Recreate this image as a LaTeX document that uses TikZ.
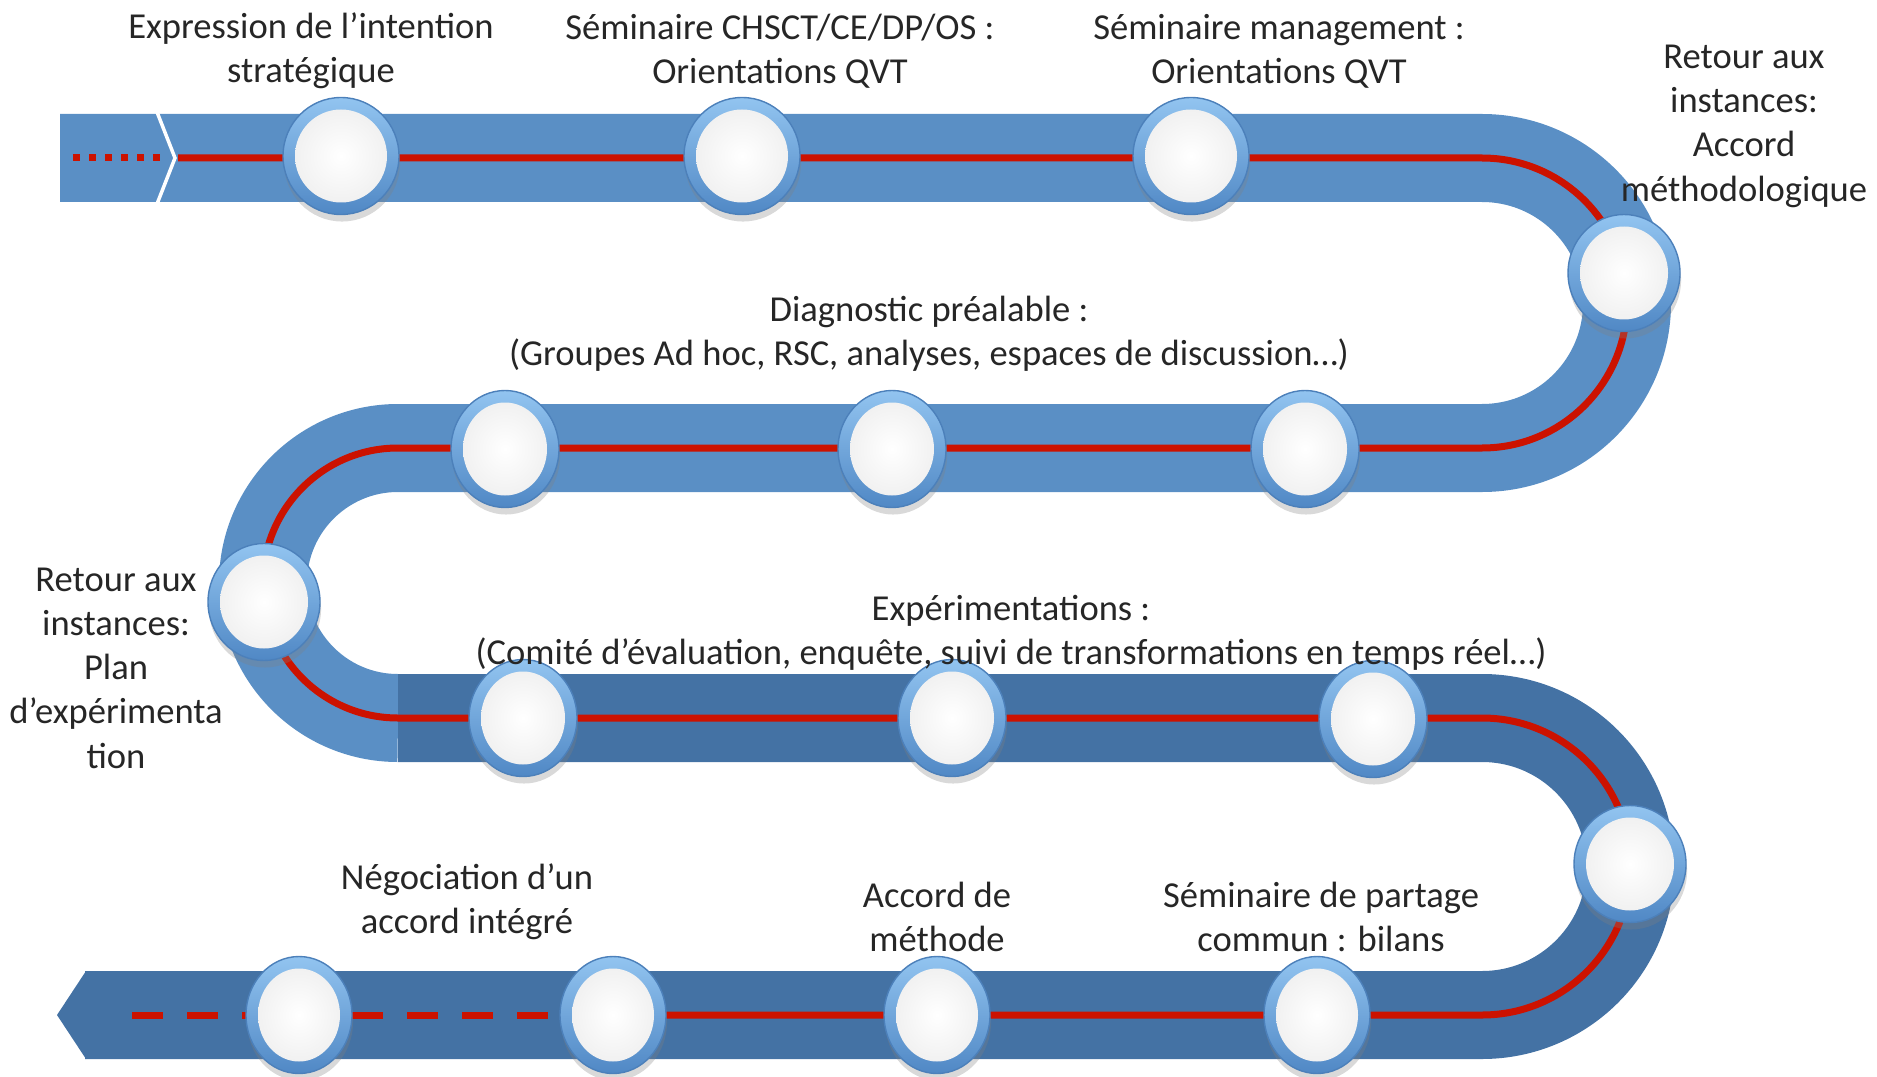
\documentclass[tikz,border=0pt]{standalone}
\usepackage{fontspec}
\setmainfont{Carlito}
\usepackage{tikz}
\usetikzlibrary{shapes.geometric,shadows,calc}

\definecolor{bandlight}{RGB}{90,143,197}
\definecolor{banddark}{RGB}{68,114,164}
\definecolor{railred}{RGB}{204,18,0}
\definecolor{ringtop}{RGB}{146,196,240}
\definecolor{ringbot}{RGB}{80,136,197}
\definecolor{ringline}{RGB}{76,128,186}

\tikzset{
	band/.style={line width=0.88cm, draw=bandlight},
	rail/.style={line width=0.07cm, draw=railred},
	stop/.style={ellipse, minimum width=#1, minimum height=1.17cm, inner sep=0pt,
		draw=ringline, line width=0.4pt, top color=ringtop, bottom color=ringbot,
		drop shadow={shadow xshift=0.3pt, shadow yshift=-2pt, opacity=0.3},
		path picture={\shade[inner color=white, outer color=black!7]
			(path picture bounding box.center) ellipse [x radius=#1/2-0.12cm, y radius=0.465cm];}},
	stop/.default=1.16cm,
	lbl/.style={align=center, inner sep=0pt, text=black!85,
		font=\fontsize{10.4}{12.6}\selectfont}
}

\begin{document}
\begin{tikzpicture}

	\newcommand{\HelpGrid}[4]{
		\draw [help lines] (#1,#2) grid (#3,#4);
		\foreach \i in {#1,..., #3}
		\node [below] at (\i,#2) {$\i$};
		\foreach \i in {#2,..., #4}
		\node [left] at (#1,\i) {$\i$};
	}

	\useasboundingbox (0,0) rectangle (18.77,10.76);

	% the track
	\draw [band] (0.60,9.18) -- (14.82,9.18) arc [start angle=90, end angle=-90, radius=1.45]
		-- (3.98,6.28) arc [start angle=90, end angle=270, radius=1.35];
	\draw [band, draw=banddark] (3.98,3.58) -- (14.82,3.58)
		arc [start angle=90, end angle=-90, radius=1.485] -- (0.85,0.61);
	\fill [banddark] (0.86,1.05) -- (0.57,0.61) -- (0.86,0.17) -- cycle;
	\draw [white, line width=0.035cm] (1.57,9.64) -- (1.75,9.18) -- (1.57,8.72);

	% the red line
	\draw [rail, dash pattern=on 0.07cm off 0.09cm] (0.73,9.18) -- (1.60,9.18);
	\draw [rail] (1.78,9.18) -- (14.82,9.18) arc [start angle=90, end angle=-90, radius=1.45]
		-- (3.98,6.28) arc [start angle=90, end angle=270, radius=1.35]
		-- (14.82,3.58) arc [start angle=90, end angle=-90, radius=1.485] -- (6.13,0.61);
	\draw [rail, dash pattern=on 0.31cm off 0.24cm] (1.32,0.61) -- (6.13,0.61);

	% stops
	\node [stop] (s1) at (3.41,9.20) {};
	\node [stop] (s2) at (7.42,9.20) {};
	\node [stop] (s3) at (11.91,9.20) {};
	\node [stop=1.12cm] (s4) at (16.24,8.03) {};
	\node [stop=1.08cm] (s5) at (13.05,6.27) {};
	\node [stop=1.08cm] (s6) at (8.92,6.27) {};
	\node [stop=1.08cm] (s7) at (5.05,6.27) {};
	\node [stop=1.12cm] (s8) at (2.64,4.74) {};
	\node [stop=1.08cm] (s9) at (5.23,3.58) {};
	\node [stop=1.08cm] (s10) at (9.52,3.58) {};
	\node [stop=1.08cm] (s11) at (13.73,3.57) {};
	\node [stop=1.12cm] (s12) at (16.30,2.12) {};
	\node [stop=1.06cm] (s13) at (13.17,0.61) {};
	\node [stop=1.06cm] (s14) at (9.37,0.61) {};
	\node [stop=1.06cm] (s15) at (6.13,0.61) {};
	\node [stop=1.06cm] (s16) at (2.99,0.61) {};

	% labels
	\node [lbl] (intent) at (3.11,10.25) {Expression de l’intention\\stratégique};
	\node [lbl] (semchsct) at (7.80,10.25) {Séminaire CHSCT/CE/DP/OS :\\Orientations QVT};
	\node [lbl] (semmgmt) at (12.79,10.25) {Séminaire management :\\Orientations QVT};
	\node [lbl] (retour1) at (17.44,9.50) {Retour aux\\instances:\\Accord\\méthodologique};
	\node [lbl] (diag) at (9.29,7.42) {Diagnostic préalable :\\(Groupes Ad hoc, RSC, analyses, espaces de discussion…)};
	\node [lbl] (retour2) at (1.16,4.08) {Retour aux\\instances:\\Plan\\d’expérimenta\\tion};
	\node [lbl] (exper) at (10.11,4.43) {Expérimentations :\\(Comité d’évaluation, enquête, suivi de transformations en temps réel…)};
	\node [lbl] (nego) at (4.67,1.74) {Négociation d’un\\accord intégré};
	\node [lbl] (accord) at (9.37,1.59) {Accord de\\méthode};
	\node [lbl] (partage) at (13.21,1.59) {Séminaire de partage\\commun : bilans};

%	\HelpGrid{0}{0}{18}{10}

\end{tikzpicture}
\end{document}
